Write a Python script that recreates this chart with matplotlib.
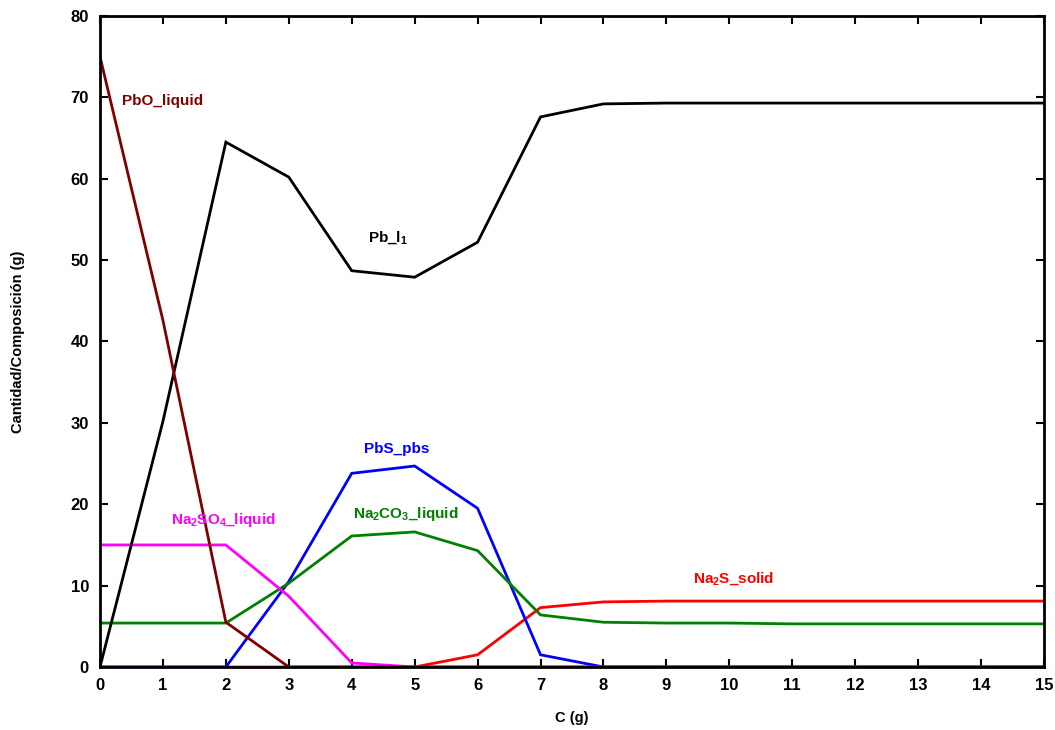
import matplotlib
matplotlib.use('Agg')
import matplotlib.pyplot as plt

plt.rcParams['font.family'] = ['Liberation Sans', 'DejaVu Sans']
plt.rcParams['font.weight'] = 'bold'
plt.rcParams['mathtext.fontset'] = 'custom'
plt.rcParams['mathtext.rm'] = 'Liberation Sans'
plt.rcParams['mathtext.it'] = 'Liberation Sans:italic'
plt.rcParams['mathtext.bf'] = 'Liberation Sans:bold'

C = list(range(16))

pb_l1 = [0, 30.2, 64.5, 60.2, 48.7, 47.9, 52.2, 67.6, 69.2, 69.3, 69.3, 69.3, 69.3, 69.3, 69.3, 69.3]
pbo_liquid = [75, 42.6, 5.5, 0, 0, 0, 0, 0, 0, 0, 0, 0, 0, 0, 0, 0]
na2so4_liquid = [15, 15, 15, 8.7, 0.5, 0, 0, 0, 0, 0, 0, 0, 0, 0, 0, 0]
na2co3_liquid = [5.4, 5.4, 5.4, 10.3, 16.1, 16.6, 14.3, 6.4, 5.5, 5.4, 5.4, 5.3, 5.3, 5.3, 5.3, 5.3]
pbs_pbs = [0, 0, 0, 10.5, 23.8, 24.7, 19.5, 1.5, 0, 0, 0, 0, 0, 0, 0, 0]
na2s_solid = [0, 0, 0, 0, 0, 0, 1.5, 7.3, 8.0, 8.1, 8.1, 8.1, 8.1, 8.1, 8.1, 8.1]

series = [
    (na2s_solid, '#ff0000', r'Na$_\mathrm{2}$S_solid', 10.06, 10.9),
    (pbs_pbs, '#0000ff', 'PbS_pbs', 4.72, 26.8),
    (na2co3_liquid, '#008000', r'Na$_\mathrm{2}$CO$_\mathrm{3}$_liquid', 4.86, 18.8),
    (na2so4_liquid, '#ff00ff', r'Na$_\mathrm{2}$SO$_\mathrm{4}$_liquid', 1.96, 18.1),
    (pb_l1, '#000000', r'Pb_l$_\mathrm{1}$', 4.58, 52.8),
    (pbo_liquid, '#800000', 'PbO_liquid', 1.0, 69.5),
]

fig = plt.figure(figsize=(10.55, 7.3), dpi=100)
ax = fig.add_axes([100 / 1055, 63 / 730, 944 / 1055, 651 / 730])

for vals, col, name, tx, ty in series:
    ax.plot(C, vals, color=col, lw=2, solid_joinstyle='miter')
    ax.text(tx, ty, name, color=col, fontsize=11, fontweight='bold',
            ha='center', va='center')

ax.set_xlim(0, 15)
ax.set_ylim(0, 80)
ax.set_xticks(range(16))
ax.set_yticks(range(0, 81, 10))
ax.tick_params(direction='in', top=True, right=True, length=6, width=1.5,
               labelsize=12, pad=8)
for lab in ax.get_xticklabels() + ax.get_yticklabels():
    lab.set_fontweight('bold')
for sp in ax.spines.values():
    sp.set_linewidth(2)

ax.set_xlabel('C (g)', fontsize=10.5, fontweight='bold')
ax.set_ylabel('Cantidad/Composición (g)', fontsize=10.5, fontweight='bold')
ax.xaxis.set_label_coords(0.5, -0.078, transform=ax.transAxes)
ax.yaxis.set_label_coords(-0.087, 0.5, transform=ax.transAxes)
ax.xaxis.label.set_va('center')
ax.yaxis.label.set_va('center')

fig.savefig('out.png', dpi=100)
